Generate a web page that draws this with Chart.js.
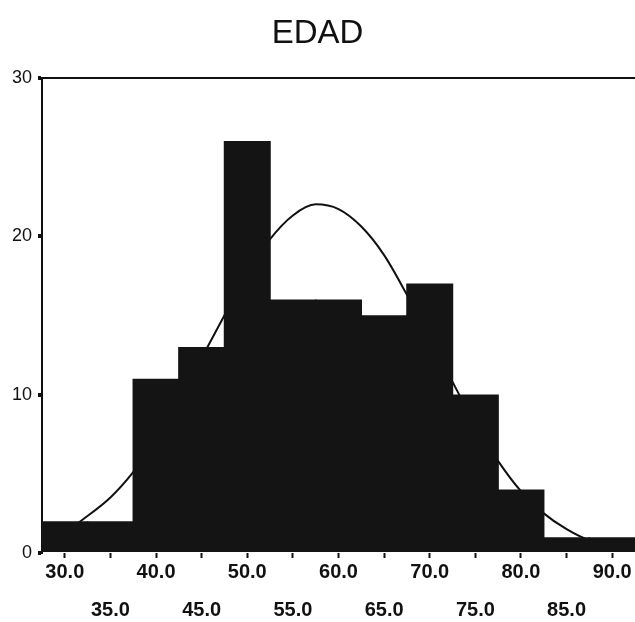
<!DOCTYPE html>
<html>
<head>
<meta charset="utf-8">
<script src="https://cdn.jsdelivr.net/npm/chart.js@4/dist/chart.umd.min.js"></script>
<style>
  body { margin: 0; background: #fff; }
  #wrap { width: 635px; height: 622px; position: relative; }
</style>
</head>
<body>
<div id="wrap"><canvas id="hist"></canvas></div>
<script>
// histogram bins (midpoints) and counts
const bins = [30, 35, 40, 45, 50, 55, 60, 65, 70, 75, 80, 85, 90];
const counts = [2, 2, 11, 13, 26, 16, 16, 15, 17, 10, 4, 1, 1];

// normal curve
const curveX = [31.5, 35, 37.5, 40, 42.5, 45, 47.5, 50, 52.5, 55, 57.5, 60, 62.5, 65, 67.5, 70, 72.5, 75, 77.5, 80, 82.5, 85, 87.5, 90];
const curveY = [1.9, 3.5, 5.1, 7.1, 9.6, 12.3, 15.0, 17.6, 19.8, 21.3, 22.0, 21.7, 20.6, 18.8, 16.3, 13.6, 10.8, 8.1, 5.8, 3.9, 2.5, 1.5, 0.8, 0.5];

const yTicks = [0, 10, 20, 30];

// labels alternate between two rows
const labels = bins.map(function(b, i) {
    const txt = b.toFixed(1);
    return i % 2 === 0 ? txt : ['', txt];
});

const curvePts = curveX.map(function(x, i) { return { x: x, y: curveY[i] }; });

const ctx = document.getElementById('hist').getContext('2d');

new Chart(ctx, {
    type: 'bar',
    data: {
        labels: labels,
        datasets: [{
            type: 'bar',
            data: counts,
            backgroundColor: '#141414',
            borderWidth: 0,
            grouped: false,
            barPercentage: 1.03,
            categoryPercentage: 1,
            order: 1
        }, {
            // curve sits behind the bars, like in the original
            type: 'line',
            data: curvePts,
            xAxisID: 'xc',
            borderColor: '#111',
            borderWidth: 2,
            pointRadius: 0,
            tension: 0.4,
            cubicInterpolationMode: 'monotone',
            order: 2
        }]
    },
    options: {
        responsive: true,
        maintainAspectRatio: false,
        animation: false,
        layout: { padding: 0 },
        plugins: {
            legend: { display: false },
            tooltip: { enabled: false },
            title: {
                display: true,
                text: 'EDAD',
                color: '#111',
                font: { family: 'Liberation Sans, Arial, sans-serif', size: 33, weight: 'normal', lineHeight: 1.2 },
                padding: { top: 14, bottom: 24 }
            }
        },
        scales: {
            x: {
                type: 'category',
                offset: true,
                grid: {
                    offset: false,
                    drawOnChartArea: false,
                    tickLength: 5,
                    tickColor: '#111',
                    tickWidth: 2
                },
                border: { display: false },
                ticks: {
                    color: '#111',
                    autoSkip: false,
                    maxRotation: 0,
                    padding: -5,
                    font: { family: 'Liberation Sans, Arial, sans-serif', size: 20, weight: 'bold', lineHeight: 1.9 }
                },
                afterFit: function(s) { s.height = 69; }
            },
            xc: {
                type: 'linear',
                display: false,
                offset: false,
                min: 27.5,
                max: 92.5
            },
            y: {
                min: 0,
                max: 30,
                afterBuildTicks: function(s) { s.ticks = yTicks.map(function(v) { return { value: v }; }); },
                grid: {
                    color: function(c) { return c.tick && c.tick.value === 30 ? '#111' : 'rgba(0,0,0,0)'; },
                    lineWidth: 2,
                    tickLength: 4,
                    tickColor: '#111',
                    tickWidth: 4
                },
                border: { display: true, color: '#111', width: 2 },
                ticks: {
                    color: '#111',
                    padding: 6,
                    font: { family: 'Liberation Sans, Arial, sans-serif', size: 18 }
                },
                afterFit: function(s) { s.width = 42; }
            }
        }
    }
});
</script>
</body>
</html>
